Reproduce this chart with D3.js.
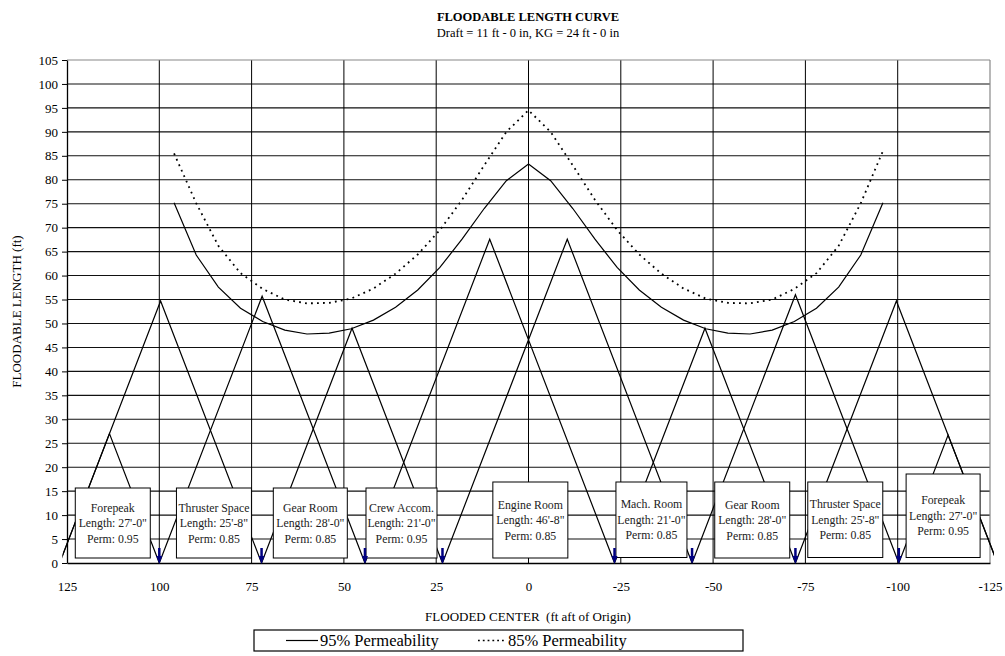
<!DOCTYPE html>
<html>
<head>
<meta charset="utf-8">
<script src="https://cdn.jsdelivr.net/npm/d3@7/dist/d3.min.js"></script>
<style>
  html, body { margin: 0; padding: 0; background: #fff; }
  svg { display: block; font-family: "Liberation Serif", "Times New Roman", serif; }
</style>
</head>
<body>
<svg id="chart" width="1005" height="656"></svg>
<script>
// ---------------- DATA ----------------
const yTicks = [0,5,10,15,20,25,30,35,40,45,50,55,60,65,70,75,80,85,90,95,100,105];
const xTicks = [125,100,75,50,25,0,-25,-50,-75,-100,-125];

// floodable length curves
const curveX = [96,90,84,78,72,66,60,54,48,42,36,30,24,18,12,6,0,-6,-12,-18,-24,-30,-36,-42,-48,-54,-60,-66,-72,-78,-84,-90,-96];
const perm95 = [75.2,64.3,57.6,53.2,50.4,48.6,47.8,48.0,48.9,50.7,53.4,57.0,61.7,67.6,74.0,79.8,83.3,79.8,74.0,67.6,61.7,57.0,53.4,50.7,48.9,48.0,47.8,48.6,50.4,53.2,57.6,64.3,75.2];
const perm85 = [85.5,75.1,66.2,60.5,57.2,55.0,54.2,54.3,55.2,57.3,60.4,64.4,69.5,75.8,83.0,90.0,94.5,90.0,83.0,75.8,69.5,64.4,60.4,57.3,55.2,54.3,54.2,55.0,57.2,60.5,66.2,75.1,86.0];

// compartment triangles (feet on the base line, apex height = span)
const triLeft  = [127, 127, 100, 72.3, 44.3, 23.3, -23.3, -44.3, -72.3, -100.3];
const triRight = [100, 72.3, 44.3, 23.3, -23.3, -44.3, -72.3, -100.3, -127, -127];

// bulkhead arrows
const bulkheads = [100, 72.3, 44.3, 23.3, -23.3, -44.3, -72.3, -100.3];

// compartment labels
const compNames = ["Forepeak","Thruster Space","Gear Room","Crew Accom.","Engine Room","Mach. Room","Gear Room","Thruster Space","Forepeak"];
const compLengths = ["27'-0\"","25'-8\"","28'-0\"","21'-0\"","46'-8\"","21'-0\"","28'-0\"","25'-8\"","27'-0\""];
const compPerms = ["0.95","0.85","0.85","0.95","0.85","0.85","0.85","0.85","0.95"];
const labelAnchor = [112.6, 85.2, 59.1, 34.4, -0.5, -33.3, -60.6, -85.8, -112.3];

const seriesNames = ["95% Permeability", "85% Permeability"];

// ---------------- LAYOUT ----------------
const boxW   = [75, 75, 74, 71, 75, 71, 75, 75, 74];
const boxTop = [488, 488, 488, 488, 482, 482, 482, 482, 474];
const boxBot = [558, 558, 558, 558, 558, 557.5, 558, 557.5, 557.5];

const svg = d3.select("#chart");
const x = d3.scaleLinear().domain([125, -125]).range([67, 990]);
const y = d3.scaleLinear().domain([0, 105]).range([563, 60]);

// titles
svg.append("text").attr("x", 528).attr("y", 21).attr("text-anchor", "middle")
  .attr("font-size", 12.5).attr("font-weight", "bold").text("FLOODABLE LENGTH CURVE");
svg.append("text").attr("x", 528).attr("y", 37).attr("text-anchor", "middle")
  .attr("font-size", 12.5).text("Draft = 11 ft - 0 in, KG = 24 ft - 0 in");

// gridlines
const grid = svg.append("g");
grid.selectAll("line.h").data(yTicks.filter(v => v > 0 && v < 105)).join("line")
  .attr("x1", x(125)).attr("x2", x(-125))
  .attr("y1", d => y(d)).attr("y2", d => y(d))
  .attr("stroke", "#111").attr("stroke-width", 1.1);
grid.selectAll("line.v").data(xTicks.filter(v => v < 125 && v > -125)).join("line")
  .attr("x1", d => x(d)).attr("x2", d => x(d))
  .attr("y1", y(0)).attr("y2", y(105))
  .attr("stroke", "#000").attr("stroke-width", 1);
// top & right border
svg.append("line").attr("x1", x(125)).attr("x2", x(-125)).attr("y1", y(105)).attr("y2", y(105))
  .attr("stroke", "#888").attr("stroke-width", 1.2);
svg.append("line").attr("x1", x(-125)).attr("x2", x(-125)).attr("y1", y(105)).attr("y2", y(0))
  .attr("stroke", "#888").attr("stroke-width", 1.2);

// clip for triangles
svg.append("clipPath").attr("id", "clip").append("rect")
  .attr("x", 62.5).attr("y", 40).attr("width", 994 - 62.5).attr("height", 524);

// triangles
const triG = svg.append("g").attr("clip-path", "url(#clip)");
const triData = triLeft.map((l, i) => {
  const r = triRight[i];
  return [[l, 0], [(l + r) / 2, Math.abs(l - r)], [r, 0]];
});
const lineGen = d3.line().x(d => x(d[0])).y(d => y(d[1]));
triG.selectAll("path").data(triData).join("path")
  .attr("d", lineGen).attr("fill", "none").attr("stroke", "#000").attr("stroke-width", 1.2);

// curves
const pts95 = curveX.map((v, i) => [v, perm95[i]]);
const pts85 = curveX.map((v, i) => [v, perm85[i]]);
svg.append("path").attr("d", lineGen(pts95)).attr("fill", "none")
  .attr("stroke", "#000").attr("stroke-width", 1.2);
svg.append("path").attr("d", lineGen(pts85)).attr("fill", "none")
  .attr("stroke", "#000").attr("stroke-width", 1.8).attr("stroke-dasharray", "1.8,4.2");

// axes
const yAxis = d3.axisLeft(y).tickValues(yTicks).tickSize(5).tickPadding(4).tickSizeOuter(0)
  .tickFormat(d => String(d));
const gy = svg.append("g").attr("transform", `translate(${x(125)},0)`).call(yAxis);
gy.selectAll("text").attr("font-size", 13).attr("font-family", "Liberation Serif").attr("fill", "#000");
gy.selectAll("line").attr("stroke", "#000");
gy.select(".domain").attr("stroke", "#000").attr("stroke-width", 1.3);

const xAxis = d3.axisBottom(x).tickValues(xTicks).tickSize(0).tickPadding(19).tickSizeOuter(0)
  .tickFormat(d => String(d));
const gx = svg.append("g").attr("transform", `translate(0,${y(0)})`).call(xAxis);
gx.selectAll("text").attr("font-size", 13).attr("font-family", "Liberation Serif").attr("fill", "#000");
gx.select(".domain").attr("stroke", "#000").attr("stroke-width", 1.3);

// axis titles
svg.append("text").attr("transform", `translate(21,${(y(0) + y(105)) / 2}) rotate(-90)`)
  .attr("text-anchor", "middle").attr("font-size", 13).text("FLOODABLE LENGTH (ft)");
svg.append("text").attr("x", 528).attr("y", 621).attr("text-anchor", "middle")
  .attr("font-size", 13).attr("xml:space", "preserve").style("white-space", "pre")
  .text("FLOODED CENTER  (ft aft of Origin)");

// label boxes
const boxes = svg.append("g");
compNames.forEach((name, i) => {
  const cx = x(labelAnchor[i]);
  const w = boxW[i];
  const t = boxTop[i], b = boxBot[i];
  const g = boxes.append("g");
  g.append("rect").attr("x", cx - w / 2).attr("y", t).attr("width", w).attr("height", b - t)
    .attr("fill", "#fff").attr("stroke", "#000").attr("stroke-width", 1);
  const mid = (t + b) / 2;
  const lines = [name, "Length: " + compLengths[i], "Perm: " + compPerms[i]];
  lines.forEach((txt, k) => {
    g.append("text").attr("x", cx).attr("y", mid + (k - 1) * 15.5 + 4)
      .attr("text-anchor", "middle").attr("font-size", 11.8).attr("fill", "#222").text(txt);
  });
});

// bulkhead arrows
const arr = svg.append("g");
bulkheads.forEach(b => {
  const bx = x(b);
  arr.append("line").attr("x1", bx).attr("x2", bx).attr("y1", 548).attr("y2", 558)
    .attr("stroke", "#000080").attr("stroke-width", 2.5);
  arr.append("path").attr("d", `M${bx - 3},556 L${bx + 3},556 L${bx},564 Z`).attr("fill", "#000080");
});

// legend
const lg = svg.append("g");
lg.append("rect").attr("x", 254).attr("y", 630).attr("width", 489).attr("height", 21)
  .attr("fill", "#fff").attr("stroke", "#000").attr("stroke-width", 1.2);
lg.append("line").attr("x1", 286).attr("x2", 318).attr("y1", 640.5).attr("y2", 640.5)
  .attr("stroke", "#000").attr("stroke-width", 1.2);
lg.append("text").attr("x", 320).attr("y", 646).attr("font-size", 16.5).text(seriesNames[0]);
lg.append("line").attr("x1", 478).attr("x2", 505).attr("y1", 640.5).attr("y2", 640.5)
  .attr("stroke", "#000").attr("stroke-width", 1.6).attr("stroke-dasharray", "1.8,3");
lg.append("text").attr("x", 508).attr("y", 646).attr("font-size", 16.5).text(seriesNames[1]);
</script>
</body>
</html>
